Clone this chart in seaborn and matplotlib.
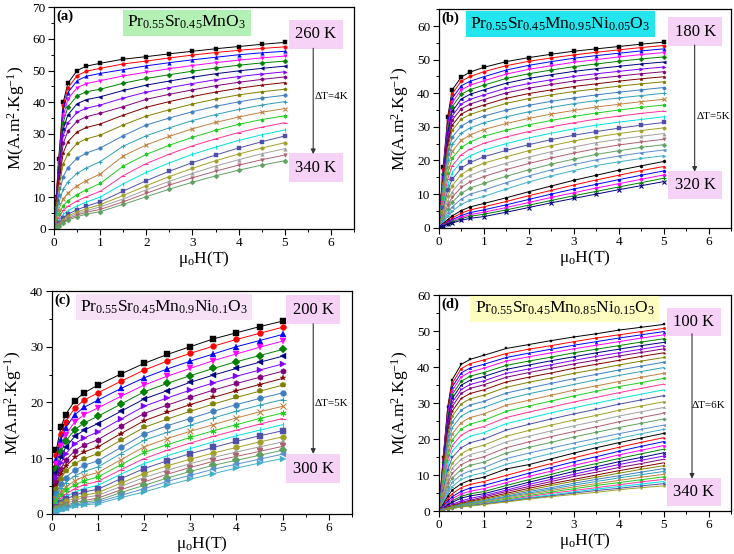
import matplotlib
matplotlib.use("Agg")
import matplotlib.pyplot as plt
from matplotlib.ticker import MultipleLocator
import seaborn as sns

H = [0, 0.05, 0.1, 0.2, 0.3, 0.5, 0.7, 1.0, 1.5, 2.0, 2.5, 3.0, 3.5, 4.0, 4.5, 5.0]

# (a) Pr0.55Sr0.45MnO3, 260 K -> 340 K
M_a = [
    [0, 10, 22, 40, 46, 50, 51.4, 52.3, 53.6, 54.4, 55.3, 56.1, 56.9, 57.6, 58.3, 58.9],
    [0, 10, 21, 39, 44.5, 48.4, 49.8, 50.7, 52.1, 53.0, 54.0, 54.9, 55.7, 56.4, 57.0, 57.5],
    [0, 9.5, 20, 37.5, 43, 46.8, 48.2, 49.1, 50.3, 51.5, 52.5, 53.4, 54.2, 55.0, 55.6, 56.1],
    [0, 9.5, 19.5, 35.5, 41, 44.6, 45.9, 46.8, 48.3, 49.5, 50.6, 51.6, 52.5, 53.3, 54.0, 54.6],
    [0, 9, 19, 33.5, 38.5, 42, 43.3, 44.1, 46.0, 47.5, 48.7, 49.8, 50.8, 51.7, 52.4, 53.0],
    [0, 9, 18, 31.5, 36, 39.5, 40.8, 41.7, 43.7, 45.4, 46.7, 47.9, 49.0, 49.9, 50.7, 51.4],
    [0, 8.5, 17, 29.5, 33.5, 36.8, 38.1, 39.1, 41.3, 43.2, 44.6, 45.9, 47.1, 48.1, 48.9, 49.6],
    [0, 8, 16, 27, 30.8, 34, 35.4, 36.5, 38.6, 40.9, 42.5, 43.9, 45.2, 46.3, 47.2, 48.0],
    [0, 7.5, 14.5, 24, 27.5, 30.6, 32, 33.1, 35.9, 38.4, 40.2, 41.8, 43.2, 44.4, 45.4, 46.2],
    [0, 7, 13, 20.5, 23.7, 27, 28.4, 29.6, 32.8, 35.6, 37.6, 39.4, 41.0, 42.3, 43.3, 44.1],
    [0, 5.5, 10.5, 16.5, 19.3, 22.3, 23.9, 25.5, 29.4, 32.8, 35.0, 37.0, 38.7, 40.1, 41.3, 42.2],
    [0, 4.2, 8, 12.5, 14.8, 17.5, 19.2, 21.2, 26.1, 29.4, 31.9, 34.2, 36.1, 37.7, 39.1, 40.2],
    [0, 3.2, 6, 9.5, 11.3, 13.6, 15.2, 17.3, 23.0, 26.5, 29.2, 31.6, 33.6, 35.3, 36.8, 38.0],
    [0, 2.4, 4.5, 7.3, 8.8, 10.8, 12.3, 14.3, 19.8, 23.5, 26.4, 28.9, 31.1, 33.0, 34.5, 35.7],
    [0, 1.8, 3.4, 5.8, 7.1, 8.8, 10.1, 11.8, 16.8, 20.6, 23.6, 26.2, 28.4, 30.4, 32.1, 33.5],
    [0, 1.3, 2.5, 4.5, 5.7, 7.2, 8.4, 10.0, 14.2, 17.8, 20.8, 23.5, 25.8, 27.9, 29.7, 31.2],
    [0, 0.9, 1.8, 3.4, 4.6, 6.0, 7.1, 8.5, 11.9, 15.2, 18.2, 20.9, 23.3, 25.5, 27.5, 29.3],
    [0, 0.8, 1.5, 2.9, 4.0, 5.3, 6.3, 7.6, 10.5, 13.6, 16.5, 19.1, 21.5, 23.6, 25.5, 27.2],
    [0, 0.7, 1.3, 2.5, 3.5, 4.8, 5.7, 6.9, 9.4, 12.3, 15.0, 17.5, 19.8, 21.8, 23.7, 25.3],
    [0, 0.6, 1.1, 2.2, 3.1, 4.3, 5.2, 6.1, 8.5, 11.2, 13.8, 16.1, 18.2, 20.1, 21.8, 23.3],
    [0, 0.5, 1.0, 1.9, 2.7, 3.8, 4.6, 5.4, 7.7, 10.1, 12.5, 14.7, 16.7, 18.5, 20.1, 21.5],
]

# (b) Pr0.55Sr0.45Mn0.95Ni0.05O3, 180 K -> 320 K
M_b = [
    [0, 9, 18, 33, 41, 44.8, 46.3, 47.7, 49.4, 50.6, 51.6, 52.5, 53.2, 53.9, 54.6, 55.2],
    [0, 8.8, 17.5, 32, 39.8, 43.6, 45.0, 46.4, 48.2, 49.5, 50.5, 51.4, 52.2, 52.9, 53.6, 54.2],
    [0, 8.5, 17, 31, 38.5, 42.2, 43.6, 44.9, 46.9, 48.3, 49.4, 50.4, 51.2, 51.9, 52.6, 53.2],
    [0, 8.3, 16.6, 30, 37.3, 41.0, 42.4, 43.7, 45.7, 47.1, 48.2, 49.2, 50.0, 50.8, 51.5, 52.1],
    [0, 8.1, 16.1, 29, 36, 39.7, 41.1, 42.4, 44.4, 45.8, 46.9, 47.9, 48.7, 49.5, 50.2, 50.8],
    [0, 7.8, 15.6, 28, 34.6, 38.3, 39.7, 41.0, 43.0, 44.4, 45.5, 46.5, 47.3, 48.0, 48.7, 49.3],
    [0, 7.5, 15, 27, 33.3, 36.8, 38.2, 39.5, 41.5, 42.9, 44.0, 45.0, 45.8, 46.5, 47.2, 47.8],
    [0, 7.2, 14.5, 26, 32, 35.4, 36.8, 38.1, 40.1, 41.5, 42.6, 43.6, 44.4, 45.1, 45.8, 46.4],
    [0, 7, 13.9, 24.8, 30.5, 33.8, 35.2, 36.5, 38.5, 39.9, 41.0, 42.0, 42.8, 43.6, 44.3, 44.9],
    [0, 6.6, 13.2, 23.5, 29, 32.3, 33.7, 35.0, 37.0, 38.4, 39.5, 40.5, 41.3, 42.1, 42.8, 43.4],
    [0, 6.2, 12.3, 21.8, 26.9, 30.2, 31.8, 33.2, 35.0, 36.4, 37.6, 38.6, 39.5, 40.3, 41.0, 41.7],
    [0, 5.6, 11.2, 20, 24.8, 28.1, 29.7, 31.2, 33.0, 34.5, 35.8, 36.9, 37.8, 38.6, 39.3, 40.0],
    [0, 5, 10.1, 18.2, 22.7, 26.0, 27.6, 29.2, 31.0, 32.5, 33.8, 34.9, 35.9, 36.7, 37.5, 38.2],
    [0, 4.5, 9, 16.4, 20.6, 23.9, 25.5, 27.2, 29.0, 30.6, 31.9, 33.1, 34.1, 35.0, 35.8, 36.5],
    [0, 3.9, 7.8, 14.5, 18.4, 21.7, 23.4, 25.1, 27.0, 28.6, 30.0, 31.2, 32.3, 33.2, 34.0, 34.7],
    [0, 3.4, 6.8, 12.8, 16.4, 19.7, 21.4, 23.1, 25.0, 26.7, 28.1, 29.4, 30.5, 31.4, 32.2, 33.0],
    [0, 2.9, 5.8, 11.1, 14.4, 17.7, 19.4, 21.1, 23.0, 24.7, 26.2, 27.5, 28.6, 29.6, 30.5, 31.3],
    [0, 2.4, 4.9, 9.5, 12.5, 15.8, 17.5, 19.2, 21.1, 22.9, 24.4, 25.8, 27.0, 28.0, 28.9, 29.7],
    [0, 2, 4.1, 8, 10.7, 13.9, 15.6, 17.2, 19.2, 21.0, 22.6, 24.0, 25.3, 26.3, 27.2, 28.0],
    [0, 1.7, 3.4, 6.7, 9.1, 12.0, 13.7, 15.2, 17.3, 19.1, 20.7, 22.2, 23.5, 24.6, 25.5, 26.3],
    [0, 1.4, 2.8, 5.5, 7.6, 10.2, 11.8, 13.2, 15.3, 17.2, 18.9, 20.4, 21.8, 22.9, 23.9, 24.7],
    [0, 1.1, 2.2, 4.4, 6.2, 8.5, 10.0, 11.2, 13.4, 15.4, 17.2, 18.8, 20.2, 21.3, 22.3, 23.1],
    [0, 0.8, 1.7, 3.4, 4.9, 6.9, 8.2, 9.3, 11.5, 13.6, 15.4, 17.0, 18.5, 19.6, 20.6, 21.4],
    [0, 0.6, 1.2, 2.4, 3.5, 5.1, 6.2, 7.2, 8.9, 10.7, 12.4, 14.1, 15.6, 17.1, 18.4, 19.7],
    [0, 0.5, 1.0, 2.0, 2.9, 4.3, 5.3, 6.2, 7.8, 9.5, 11.1, 12.7, 14.2, 15.6, 17.0, 18.2],
    [0, 0.4, 0.8, 1.6, 2.4, 3.6, 4.5, 5.3, 6.8, 8.4, 10.0, 11.5, 12.9, 14.3, 15.6, 16.9],
    [0, 0.35, 0.7, 1.4, 2.0, 3.1, 3.9, 4.6, 6.0, 7.5, 9.0, 10.4, 11.8, 13.1, 14.4, 15.7],
    [0, 0.3, 0.6, 1.2, 1.7, 2.7, 3.4, 4.0, 5.3, 6.7, 8.1, 9.5, 10.8, 12.1, 13.4, 14.7],
    [0, 0.25, 0.5, 1.0, 1.4, 2.2, 2.8, 3.3, 4.6, 6.0, 7.4, 8.7, 10.0, 11.3, 12.5, 13.7],
]

# (c) Pr0.55Sr0.45Mn0.9Ni0.1O3, 200 K -> 300 K
M_c = [
    [0, 8, 11.5, 15.5, 17.8, 20.3, 21.7, 23.1, 25.1, 27.0, 28.6, 30.0, 31.4, 32.5, 33.6, 34.6],
    [0, 7.2, 10.5, 14.3, 16.5, 19.0, 20.4, 21.7, 23.8, 25.8, 27.4, 28.8, 30.1, 31.3, 32.4, 33.5],
    [0, 6.6, 9.7, 13.3, 15.4, 17.8, 19.1, 20.4, 22.5, 24.4, 26.0, 27.4, 28.7, 30.0, 31.1, 32.2],
    [0, 6, 8.9, 12.2, 14.2, 16.5, 17.8, 19.0, 21.1, 23.1, 24.7, 26.1, 27.5, 28.7, 29.9, 31.0],
    [0, 5.4, 8, 11.1, 13.0, 15.1, 16.3, 17.5, 19.7, 21.9, 23.4, 24.8, 26.1, 27.3, 28.4, 29.5],
    [0, 4.9, 7.3, 10.1, 11.9, 13.9, 15.0, 16.2, 18.4, 20.6, 22.1, 23.6, 24.9, 26.1, 27.2, 28.3],
    [0, 4.3, 6.5, 9.1, 10.7, 12.6, 13.6, 14.7, 17.0, 19.3, 20.8, 22.2, 23.5, 24.7, 25.8, 26.9],
    [0, 3.8, 5.7, 8.1, 9.6, 11.3, 12.3, 13.3, 15.7, 18.0, 19.5, 20.9, 22.2, 23.4, 24.5, 25.6],
    [0, 3.3, 5.0, 7.2, 8.5, 10.1, 11.1, 12.0, 14.4, 16.7, 18.2, 19.6, 20.9, 22.1, 23.2, 24.3],
    [0, 2.9, 4.4, 6.3, 7.6, 9.0, 9.9, 10.8, 13.2, 15.5, 17.0, 18.4, 19.7, 20.9, 22.0, 23.1],
    [0, 2.4, 3.7, 5.4, 6.5, 7.8, 8.7, 9.5, 11.9, 14.3, 15.8, 17.1, 18.4, 19.6, 20.7, 21.7],
    [0, 2.0, 3.1, 4.6, 5.6, 6.8, 7.6, 8.4, 10.8, 13.2, 14.6, 15.9, 17.2, 18.4, 19.5, 20.5],
    [0, 1.7, 2.6, 3.9, 4.8, 5.9, 6.7, 7.4, 9.7, 12.0, 13.5, 14.8, 16.0, 17.2, 18.3, 19.3],
    [0, 1.4, 2.2, 3.4, 4.2, 5.2, 5.9, 6.6, 8.8, 11.0, 12.4, 13.7, 14.9, 16.0, 17.1, 18.1],
    [0, 1.1, 1.8, 2.8, 3.5, 4.5, 5.2, 5.8, 7.9, 9.9, 11.4, 12.7, 13.9, 15.0, 16.1, 17.1],
    [0, 0.9, 1.5, 2.4, 3.0, 3.9, 4.5, 5.1, 7.1, 9.0, 10.4, 11.7, 12.9, 14.0, 15.0, 16.0],
    [0, 0.7, 1.2, 2.0, 2.6, 3.3, 3.9, 4.4, 6.3, 8.1, 9.5, 10.8, 11.9, 13.0, 14.0, 14.9],
    [0, 0.6, 1.0, 1.7, 2.2, 2.8, 3.3, 3.8, 5.5, 7.2, 8.6, 9.8, 10.9, 11.9, 12.9, 13.8],
    [0, 0.5, 0.8, 1.4, 1.8, 2.4, 2.9, 3.3, 4.9, 6.5, 7.8, 9.0, 10.1, 11.1, 12.0, 12.9],
    [0, 0.4, 0.7, 1.2, 1.5, 2.0, 2.4, 2.8, 4.3, 5.7, 7.1, 8.3, 9.4, 10.3, 11.2, 12.1],
    [0, 0.3, 0.6, 1.0, 1.3, 1.7, 2.1, 2.4, 3.8, 5.1, 6.4, 7.6, 8.7, 9.6, 10.5, 11.4],
    [0, 0.25, 0.5, 0.85, 1.1, 1.5, 1.8, 2.1, 3.3, 4.5, 5.8, 6.9, 8.0, 8.9, 9.8, 10.7],
    [0, 0.2, 0.4, 0.7, 0.9, 1.3, 1.6, 1.8, 2.9, 3.9, 5.1, 6.2, 7.2, 8.2, 9.1, 9.9],
]

# (d) Pr0.55Sr0.45Mn0.85Ni0.15O3, 100 K -> 340 K
M_d = [
    [0, 7, 15, 29, 36.5, 40.8, 42.2, 43.3, 45.2, 46.3, 47.4, 48.4, 49.3, 50.3, 51.1, 51.9],
    [0, 6.8, 14.7, 28.3, 35.5, 39.6, 41.0, 42.0, 43.8, 45.0, 46.0, 47.1, 48.1, 49.0, 49.9, 50.8],
    [0, 6.6, 14.3, 27.5, 34.5, 38.4, 39.8, 40.8, 42.7, 43.9, 45.0, 46.1, 47.1, 48.1, 49.0, 49.9],
    [0, 6.4, 13.9, 26.7, 33.5, 37.3, 38.7, 39.7, 41.7, 42.9, 44.0, 45.1, 46.1, 47.1, 48.1, 49.0],
    [0, 6.2, 13.5, 25.8, 32.4, 36.1, 37.5, 38.5, 40.5, 41.7, 42.8, 44.0, 45.0, 46.0, 47.0, 47.9],
    [0, 6.0, 13.1, 25.0, 31.3, 35.0, 36.4, 37.4, 39.4, 40.6, 41.8, 42.9, 44.0, 45.0, 46.0, 46.9],
    [0, 5.8, 12.6, 24.1, 30.2, 33.8, 35.2, 36.2, 38.3, 39.5, 40.7, 41.9, 43.0, 44.0, 45.0, 46.0],
    [0, 5.6, 12.2, 23.3, 29.1, 32.7, 34.1, 35.1, 37.2, 38.5, 39.7, 40.9, 42.0, 43.1, 44.1, 45.1],
    [0, 5.4, 11.7, 22.2, 27.8, 31.3, 32.7, 33.7, 35.9, 37.2, 38.4, 39.7, 40.8, 41.9, 43.0, 44.0],
    [0, 5.1, 11.1, 21.1, 26.4, 29.8, 31.2, 32.2, 34.4, 35.8, 37.0, 38.3, 39.4, 40.6, 41.7, 42.7],
    [0, 4.8, 10.4, 19.8, 24.8, 28.1, 29.5, 30.5, 32.8, 34.2, 35.5, 36.8, 38.0, 39.2, 40.3, 41.4],
    [0, 4.4, 9.6, 18.4, 23.2, 26.4, 27.8, 28.8, 31.1, 32.6, 33.9, 35.2, 36.5, 37.7, 38.8, 39.9],
    [0, 4.0, 8.8, 17.0, 21.5, 24.6, 26.0, 27.0, 29.4, 30.8, 32.2, 33.6, 34.8, 36.0, 37.2, 38.3],
    [0, 3.6, 8.0, 15.6, 19.8, 22.8, 24.2, 25.2, 27.7, 29.2, 30.6, 32.0, 33.3, 34.6, 35.7, 36.9],
    [0, 3.2, 7.2, 14.2, 18.2, 21.1, 22.5, 23.5, 26.0, 27.5, 28.9, 30.3, 31.6, 32.9, 34.1, 35.3],
    [0, 2.8, 6.4, 12.8, 16.6, 19.4, 20.8, 21.8, 24.3, 25.8, 27.3, 28.7, 30.0, 31.3, 32.5, 33.7],
    [0, 2.4, 5.6, 11.4, 14.9, 17.6, 19.0, 20.0, 22.5, 24.1, 25.6, 27.0, 28.3, 29.7, 30.9, 32.1],
    [0, 2.1, 4.9, 10.1, 13.3, 15.9, 17.3, 18.3, 20.8, 22.4, 23.9, 25.3, 26.6, 28.0, 29.2, 30.4],
    [0, 1.8, 4.3, 8.9, 11.9, 14.4, 15.7, 16.7, 19.2, 20.8, 22.3, 23.7, 25.0, 26.4, 27.6, 28.8],
    [0, 1.5, 3.7, 7.8, 10.5, 12.9, 14.1, 15.1, 17.6, 19.2, 20.7, 22.1, 23.4, 24.8, 26.0, 27.2],
    [0, 1.3, 3.2, 6.8, 9.2, 11.5, 12.7, 13.6, 16.1, 17.7, 19.1, 20.6, 21.9, 23.2, 24.4, 25.6],
    [0, 1.1, 2.7, 5.8, 8.0, 10.1, 11.2, 12.1, 14.6, 16.1, 17.5, 18.9, 20.2, 21.5, 22.7, 23.9],
    [0, 0.9, 2.2, 4.9, 6.8, 8.8, 9.8, 10.7, 13.0, 14.5, 16.0, 17.5, 18.9, 20.2, 21.5, 22.7],
    [0, 0.8, 1.8, 4.1, 5.8, 7.6, 8.6, 9.4, 11.7, 12.9, 14.5, 16.1, 17.6, 19.0, 20.3, 21.6],
    [0, 0.6, 1.5, 3.4, 4.8, 6.5, 7.4, 8.2, 9.9, 11.6, 13.2, 14.8, 16.3, 17.7, 19.1, 20.4],
    [0, 0.5, 1.2, 2.8, 4.0, 5.5, 6.4, 7.1, 8.8, 10.5, 12.1, 13.7, 15.1, 16.6, 18.0, 19.3],
    [0, 0.45, 1.0, 2.3, 3.4, 4.8, 5.5, 6.2, 7.9, 9.6, 11.1, 12.7, 14.1, 15.6, 16.9, 18.2],
    [0, 0.4, 0.9, 1.9, 2.8, 4.1, 4.8, 5.4, 7.1, 8.7, 10.2, 11.8, 13.2, 14.6, 15.9, 17.2],
    [0, 0.4, 0.8, 1.6, 2.4, 3.6, 4.2, 4.8, 6.4, 8.0, 9.5, 11.0, 12.3, 13.7, 14.9, 16.2],
    [0, 0.35, 0.7, 1.3, 1.9, 2.8, 3.5, 4.3, 5.8, 7.4, 8.8, 10.2, 11.6, 12.9, 14.1, 15.3],
    [0, 0.3, 0.6, 1.1, 1.6, 2.4, 3.0, 3.9, 5.4, 6.8, 8.2, 9.6, 10.8, 12.1, 13.2, 14.4],
    [0, 0.3, 0.55, 1.0, 1.4, 2.1, 2.7, 3.5, 4.9, 6.3, 7.6, 8.8, 10.0, 11.2, 12.3, 13.4],
    [0, 0.25, 0.5, 0.9, 1.3, 1.9, 2.5, 3.2, 4.5, 5.8, 7.1, 8.3, 9.4, 10.5, 11.6, 12.6],
    [0, 0.25, 0.45, 0.8, 1.15, 1.75, 2.25, 2.9, 4.1, 5.4, 6.5, 7.7, 8.8, 9.8, 10.8, 11.8],
    [0, 0.2, 0.4, 0.75, 1.1, 1.6, 2.1, 2.7, 3.9, 5.0, 6.1, 7.2, 8.2, 9.2, 10.1, 11.0],
    [0, 0.2, 0.4, 0.7, 1.0, 1.5, 1.9, 2.5, 3.6, 4.7, 5.7, 6.7, 7.6, 8.5, 9.4, 10.2],
    [0, 0.2, 0.35, 0.65, 0.9, 1.4, 1.8, 2.3, 3.3, 4.3, 5.3, 6.2, 7.1, 7.9, 8.7, 9.5],
    [0, 0.15, 0.3, 0.6, 0.85, 1.25, 1.6, 2.1, 3.0, 4.0, 4.9, 5.7, 6.5, 7.3, 8.1, 8.8],
    [0, 0.15, 0.3, 0.55, 0.8, 1.2, 1.55, 2.0, 2.9, 3.7, 4.5, 5.3, 6.1, 6.8, 7.5, 8.2],
    [0, 0.15, 0.3, 0.55, 0.75, 1.15, 1.45, 1.9, 2.7, 3.5, 4.2, 5.0, 5.7, 6.3, 7.0, 7.6],
    [0, 0.15, 0.25, 0.5, 0.7, 1.1, 1.4, 1.8, 2.5, 3.3, 4.0, 4.6, 5.2, 5.9, 6.5, 7.0],
]

# Origin-like colour / symbol increment lists
colors = ['#000000', '#FF0000', '#0000FF', '#FF00FF', '#008000', '#000080',
          '#8000FF', '#800080', '#800000', '#808000', '#3F7FBF', '#30A0B8',
          '#C08040', '#22CC22', '#FF3399', '#00E0E0', '#5050A8', '#A0A028',
          '#A0A0A0', '#B06070', '#60A060', '#5A8FD0', '#40B0C8']
markers = ['s', 'o', '^', 'v', 'D', '<', '>', 'h', '*', 'p', 'o', '+', 'x',
           (6, 2, 0), '_', '|']
line_art = ['+', 'x', '_', '|']

sns.set_style("ticks", {"axes.edgecolor": "black", "xtick.color": "black",
                        "ytick.color": "black", "text.color": "black",
                        "axes.labelcolor": "black"})
plt.rcParams['font.family'] = ['Liberation Serif', 'DejaVu Serif']
plt.rcParams['mathtext.fontset'] = 'custom'
plt.rcParams['mathtext.rm'] = 'Liberation Serif'
plt.rcParams['mathtext.it'] = 'Liberation Serif:italic'
plt.rcParams['mathtext.bf'] = 'Liberation Serif:bold'

panels = [
    dict(M=M_a, rect=[0.0736, 0.5872, 0.4087, 0.3996], ylim=70, ms=2.6, tag='(a)',
         formula='Pr$_\\mathregular{0.55}$Sr$_\\mathregular{0.45}$MnO$_\\mathregular{3}$',
         fcol='#B3F0B3', fpos=(0.443, 0.931), t_hi='260 K', t_lo='340 K',
         tx=0.873, thi=0.878, tlo=0.276, ax_x=0.864, a0=0.815, a1=0.337,
         dT='ΔT=4K', dpos=(0.926, 0.596)),
    dict(M=M_b, rect=[0.5977, 0.589, 0.3985, 0.3944], ylim=65, ms=2.4, tag='(b)',
         formula='Pr$_\\mathregular{0.55}$Sr$_\\mathregular{0.45}$Mn$_\\mathregular{0.95}$'
                 'Ni$_\\mathregular{0.05}$O$_\\mathregular{3}$',
         fcol='#22E5EE', fpos=(0.416, 0.933), t_hi='180 K', t_lo='320 K',
         tx=0.877, thi=0.897, tlo=0.195, ax_x=0.875, a0=0.836, a1=0.256,
         dT='ΔT=5K', dpos=(0.939, 0.508)),
    dict(M=M_c, rect=[0.0704, 0.0727, 0.4091, 0.402], ylim=40, ms=4.2, tag='(c)',
         formula='Pr$_\\mathregular{0.55}$Sr$_\\mathregular{0.45}$Mn$_\\mathregular{0.9}$'
                 'Ni$_\\mathregular{0.1}$O$_\\mathregular{3}$',
         fcol='#F7E1F7', fpos=(0.374, 0.928), t_hi='200 K', t_lo='300 K',
         tx=0.871, thi=0.917, tlo=0.202, ax_x=0.871, a0=0.853, a1=0.269,
         dT='ΔT=5K', dpos=(0.932, 0.494)),
    dict(M=M_d, rect=[0.5977, 0.0776, 0.3985, 0.3894], ylim=60, ms=1.8, tag='(d)',
         formula='Pr$_\\mathregular{0.55}$Sr$_\\mathregular{0.45}$Mn$_\\mathregular{0.85}$'
                 'Ni$_\\mathregular{0.15}$O$_\\mathregular{3}$',
         fcol='#FDFDC0', fpos=(0.43, 0.938), t_hi='100 K', t_lo='340 K',
         tx=0.872, thi=0.876, tlo=0.088, ax_x=0.866, a0=0.822, a1=0.15,
         dT='ΔT=6K', dpos=(0.921, 0.49)),
]

fig = plt.figure(figsize=(7.34, 5.54), dpi=100)

for p in panels:
    ax = fig.add_axes(p['rect'])
    for i, row in enumerate(p['M']):
        c = colors[i % len(colors)]
        m = markers[i % len(markers)]
        mew = 0.8 if (m in line_art or isinstance(m, tuple)) else 0.3
        sns.lineplot(x=H, y=row, ax=ax, color=c, marker=m, markersize=p['ms'],
                     markeredgecolor=c, markerfacecolor=c, markeredgewidth=mew,
                     linewidth=0.7, errorbar=None)

    ax.set_xlim(0, 6.5)
    ax.set_ylim(0, p['ylim'])
    ax.xaxis.set_major_locator(MultipleLocator(1))
    ax.xaxis.set_minor_locator(MultipleLocator(0.5))
    ax.yaxis.set_major_locator(MultipleLocator(10))
    ax.yaxis.set_minor_locator(MultipleLocator(5))
    ax.tick_params(which='major', direction='out', length=4, width=0.8, labelsize=9.5, pad=2)
    ax.tick_params(which='minor', direction='out', length=2.2, width=0.7)
    for s in ax.spines.values():
        s.set_visible(True)
        s.set_linewidth(0.9)
    ax.set_xlabel('μ$_\\mathregular{o}$H(T)', fontsize=12.5, labelpad=0)
    ax.set_ylabel('M(A.m$^\\mathregular{2}$.Kg$^\\mathregular{-1}$)', fontsize=12.5, labelpad=4)

    ax.text(0.008, 0.988, p['tag'], transform=ax.transAxes, ha='left', va='top',
            fontsize=10.5, fontweight='bold')
    ax.text(p['fpos'][0], p['fpos'][1], p['formula'], transform=ax.transAxes,
            ha='center', va='center', fontsize=12.5,
            bbox=dict(boxstyle='square,pad=0.25', fc=p['fcol'], ec='none'))
    for lab, yy in [(p['t_hi'], p['thi']), (p['t_lo'], p['tlo'])]:
        ax.text(p['tx'], yy, lab, transform=ax.transAxes, ha='center', va='center',
                fontsize=12, bbox=dict(boxstyle='square,pad=0.38', fc='#F6D3F6', ec='none'))
    ax.annotate('', xy=(p['ax_x'], p['a1']), xytext=(p['ax_x'], p['a0']),
                xycoords='axes fraction', textcoords='axes fraction',
                arrowprops=dict(arrowstyle='-|>', color='#333333', lw=0.8,
                                mutation_scale=7, shrinkA=0, shrinkB=0))
    ax.text(p['dpos'][0], p['dpos'][1], p['dT'], transform=ax.transAxes,
            ha='center', va='center', fontsize=8)

fig.savefig('out.png', dpi=100)
